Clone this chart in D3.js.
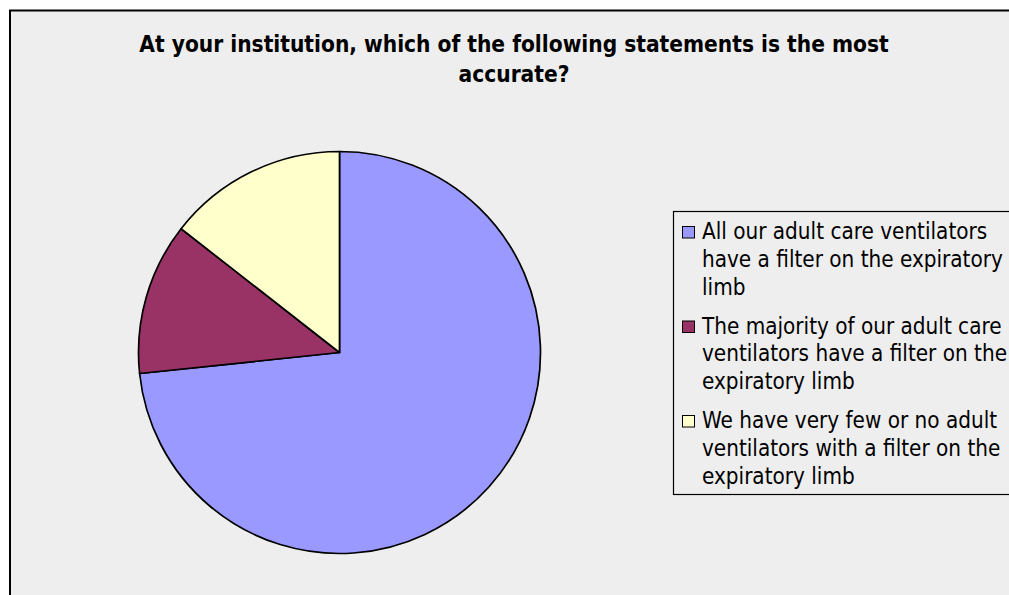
<!DOCTYPE html>
<html>
<head>
<meta charset="utf-8">
<script src="https://cdn.jsdelivr.net/npm/d3@7"></script>
<style>
  html, body { margin: 0; padding: 0; background: #ffffff; }
  svg { display: block; }
</style>
</head>
<body>
<svg id="chart" width="1009" height="595"></svg>
<script>
// ---- data ----
const titleLines = ["At your institution, which of the following statements is the most", "accurate?"];
const categories = [
  "All our adult care ventilators\nhave a filter on the expiratory\nlimb",
  "The majority of our adult care\nventilators have a filter on the\nexpiratory limb",
  "We have very few or no adult\nventilators with a filter on the\nexpiratory limb"
];
const values = [66, 11, 13];
const colors = ["#9999FF", "#993366", "#FFFFCC"];

// ---- layout ----
const W = 1009, H = 595;
const svg = d3.select("#chart");
const fontFam = "'DejaVu Sans Condensed', 'DejaVu Sans', sans-serif";

// chart area background + frame (extends past right/bottom edges like the reference)
svg.append("rect")
  .attr("x", 10).attr("y", 10.5)
  .attr("width", W + 20).attr("height", H + 20)
  .attr("fill", "#EEEEEE")
  .attr("stroke", "#000").attr("stroke-width", 2);

// title
const title = svg.append("text")
  .attr("text-anchor", "middle")
  .attr("font-family", fontFam)
  .attr("font-stretch", "condensed")
  .attr("font-weight", "bold")
  .attr("font-size", 22.5)
  .attr("fill", "#000");
title.selectAll("tspan").data(titleLines).join("tspan")
  .attr("x", 514)
  .attr("y", (d, i) => 51.5 + i * 30.5)
  .text(d => d);

// pie
const cx = 339.5, cy = 352.5, R = 201;
const pie = d3.pie().sort(null).value(d => d);
const arc = d3.arc().innerRadius(0).outerRadius(R);
const g = svg.append("g").attr("transform", `translate(${cx},${cy})`);
g.selectAll("path").data(pie(values)).join("path")
  .attr("d", arc)
  .attr("fill", (d, i) => colors[i])
  .attr("stroke", "#000")
  .attr("stroke-width", 1.7)
  .attr("stroke-linejoin", "round");

// legend
const lg = svg.append("g");
lg.append("rect")
  .attr("x", 673.5).attr("y", 211.5)
  .attr("width", 360).attr("height", 283)
  .attr("fill", "#EEEEEE")
  .attr("stroke", "#000").attr("stroke-width", 1.2);

const lineH = 27.8;
const itemStep = 94.5;
const firstBase = 239;
const items = lg.selectAll("g.item").data(categories).join("g").attr("class", "item")
  .attr("transform", (d, i) => `translate(0, ${i * itemStep})`);
items.append("rect")
  .attr("x", 682.5).attr("y", firstBase - 12.5)
  .attr("width", 12).attr("height", 11.5)
  .attr("fill", (d, i) => colors[i])
  .attr("stroke", "#000").attr("stroke-width", 1);
items.append("text")
  .attr("font-family", fontFam)
  .attr("font-stretch", "condensed")
  .attr("font-size", 22.3)
  .attr("fill", "#000")
  .selectAll("tspan").data(d => d.split("\n")).join("tspan")
  .attr("x", 702)
  .attr("y", (d, i) => firstBase + i * lineH)
  .text(d => d);
</script>
</body>
</html>
